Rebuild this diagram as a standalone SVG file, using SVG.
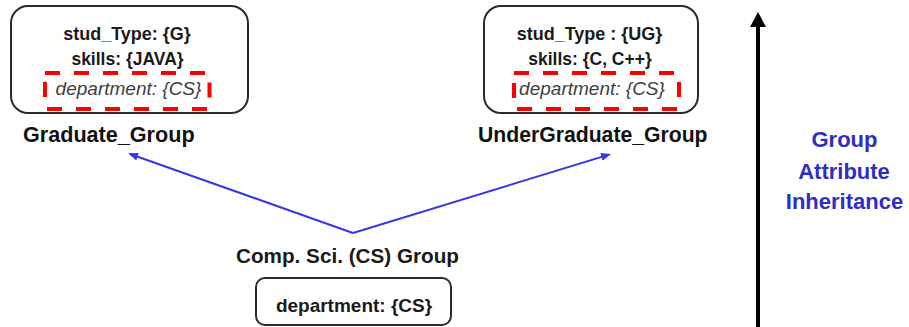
<svg xmlns="http://www.w3.org/2000/svg" width="909" height="327" viewBox="0 0 909 327">
  <style>
    .box { fill: #ffffff; stroke: #2b2b2b; stroke-width: 2; }
    .hl { fill: none; stroke: #ff0000; stroke-width: 4; stroke-dasharray: 15 14; }
    .t { font-family: "Liberation Sans", Arial, sans-serif; font-weight: bold; fill: #1a1a1a; text-anchor: middle; }
    .it { font-family: "Liberation Sans", Arial, sans-serif; font-style: italic; fill: #404040; text-anchor: middle; }
    .name { font-family: "Liberation Sans", Arial, sans-serif; font-weight: bold; fill: #111111; }
    .axis { font-family: "Liberation Sans", Arial, sans-serif; font-weight: bold; fill: #2e2ec4; text-anchor: middle; font-size: 22px; }
    .link { stroke: #3636e8; stroke-width: 2; fill: none; marker-end: url(#blueHead); }
    .up { stroke: #000000; stroke-width: 4; fill: none; marker-end: url(#blackHead); }
  </style>
  <defs>
    <marker id="blueHead" markerUnits="userSpaceOnUse" markerWidth="10" markerHeight="8" refX="8" refY="4" orient="auto">
      <path d="M0,0 L10,4 L0,8 z" fill="#3636e8"/>
    </marker>
    <marker id="blackHead" markerUnits="userSpaceOnUse" markerWidth="15" markerHeight="16" refX="7" refY="8" orient="auto">
      <path d="M0,0 L15,8 L0,16 z" fill="#000000"/>
    </marker>
  </defs>

  <!-- inheritance links from the parent group to its sub-groups -->
  <g id="connectors">
    <path class="link" d="M353,233 L130,154"/>
    <path class="link" d="M353,233 L609.1,154.6"/>
    <path class="up" d="M758,327 L758,20"/>
  </g>

  <g id="graduate-group">
    <rect class="box" x="11" y="6" width="237" height="107" rx="17"/>
    <text class="t" x="127" y="40" font-size="18">stud_Type: {G}</text>
    <text class="t" x="127.5" y="65" font-size="17.5">skills: {JAVA}</text>
    <rect class="hl" x="45" y="73" width="164.5" height="36"/>
    <text class="it" x="128.5" y="95" font-size="19">department: {CS}</text>
    <text class="name" x="23" y="142" font-size="21.6">Graduate_Group</text>
  </g>

  <g id="undergraduate-group">
    <rect class="box" x="484" y="6" width="214" height="107" rx="17"/>
    <text class="t" x="589.5" y="40" font-size="18">stud_Type : {UG}</text>
    <text class="t" x="590" y="65" font-size="17.5">skills: {C, C++}</text>
    <rect class="hl" x="514" y="73" width="165" height="36"/>
    <text class="it" x="592" y="95" font-size="19">department: {CS}</text>
    <text class="name" x="478" y="142" font-size="21.2">UnderGraduate_Group</text>
  </g>

  <g id="cs-group">
    <text class="t" x="347.5" y="263" font-size="20.7">Comp. Sci. (CS) Group</text>
    <rect class="box" x="256" y="278" width="195" height="47" rx="9"/>
    <text class="t" x="354" y="312" font-size="19">department: {CS}</text>
  </g>

  <g id="inheritance-label">
    <text class="axis" x="844.5" y="147" font-size="21">Group</text>
    <text class="axis" x="844" y="179" font-size="23">Attribute</text>
    <text class="axis" x="844.5" y="209" font-size="23">Inheritance</text>
  </g>
</svg>
